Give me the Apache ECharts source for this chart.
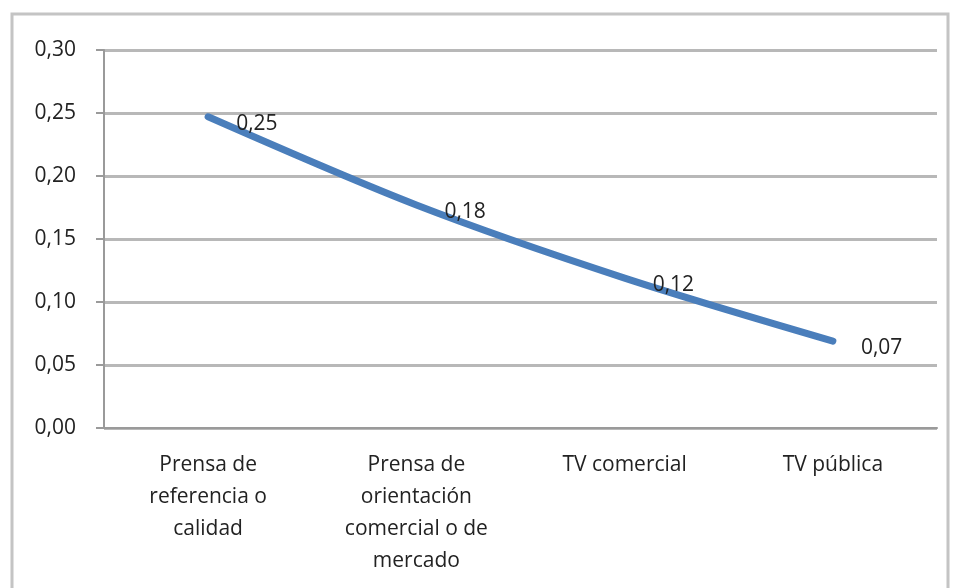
<!DOCTYPE html>
<html>
<head>
<meta charset="utf-8">
<script src="https://cdn.jsdelivr.net/npm/echarts@6/dist/echarts.min.js"></script>
<style>
  html, body { margin: 0; padding: 0; background: #fff; }
  #main { width: 960px; height: 588px; }
</style>
</head>
<body>
<div id="main"></div>
<script>
// datos
var categorias = ['Prensa de\nreferencia o\ncalidad', 'Prensa de\norientación\ncomercial o de\nmercado', 'TV comercial', 'TV pública'];
var valores = [0.247, 0.177, 0.119, 0.069];
var etiquetas = ['0,25', '0,18', '0,12', '0,07'];

var fuente = '"Open Sans", "Liberation Sans", sans-serif';
function coma(v) {
    return v.toFixed(2).replace('.', ',');
}

var myChart = echarts.init(document.getElementById('main'));

var option = {
    backgroundColor: '#fff',
    animation: false,
    graphic: [{
        type: 'rect',
        shape: { x: 12, y: 14, width: 936, height: 620 },
        style: { fill: 'none', stroke: '#c4c4c4', lineWidth: 3 },
        silent: true
    }],
    grid: {
        top: 50,
        left: 104,
        right: 23,
        bottom: 160
    },
    xAxis: {
        type: 'category',
        data: categorias,
        boundaryGap: true,
        axisLine: { lineStyle: { color: '#9a9a9a', width: 2 } },
        axisTick: { length: 6, lineStyle: { color: '#9a9a9a', width: 2 } },
        axisLabel: {
            color: '#222',
            fontSize: 21,
            lineHeight: 32,
            margin: 21,
            fontFamily: fuente,
            interval: 0
        }
    },
    yAxis: {
        type: 'value',
        min: 0,
        max: 0.3,
        interval: 0.05,
        axisLine: { show: true, lineStyle: { color: '#9a9a9a', width: 2 } },
        axisTick: { show: true, length: 8, lineStyle: { color: '#9a9a9a', width: 2 } },
        splitLine: { lineStyle: { color: '#b8b8b8', width: 3 } },
        axisLabel: {
            color: '#222',
            fontSize: 21,
            margin: 28,
            fontFamily: fuente,
            formatter: function (v) { return coma(v); }
        }
    },
    series: [{
        type: 'line',
        data: valores,
        smooth: 0.3,
        symbol: 'circle',
        symbolSize: 4,
        itemStyle: { color: '#4a7ebb' },
        lineStyle: { color: '#4a7ebb', width: 7, cap: 'round' },
        label: {
            show: true,
            position: 'right',
            distance: 26,
            offset: [0, 7],
            color: '#222',
            fontSize: 21,
            fontFamily: fuente,
            formatter: function (p) { return etiquetas[p.dataIndex]; }
        }
    }]
};

myChart.setOption(option);
</script>
</body>
</html>
